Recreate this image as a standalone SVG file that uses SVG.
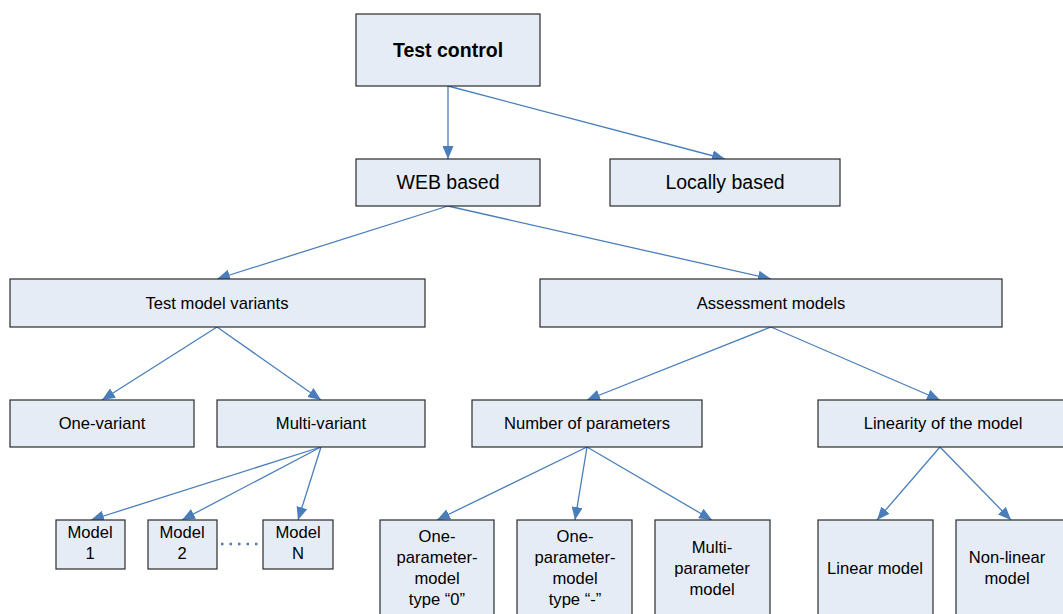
<svg xmlns="http://www.w3.org/2000/svg" width="1063" height="614" viewBox="0 0 1063 614">
<style>
.box{fill:#E6ECF6;stroke:#2b2b2b;stroke-width:1.2}
.t{font-family:"Liberation Sans",Arial,sans-serif;font-size:16.6px;fill:#000;text-anchor:middle}
.big{font-size:19.5px}
.bold{font-weight:bold}
.c{stroke:#4A7EBB;stroke-width:1.3;fill:none;marker-end:url(#ah)}
.dot{stroke:#4A7EBB;stroke-width:2.5;fill:none;stroke-dasharray:2.5 6}
</style>
<defs>
<marker id="ah" viewBox="0 0 13 11" refX="13" refY="5.5" markerWidth="13" markerHeight="11" markerUnits="userSpaceOnUse" orient="auto">
<path d="M0,0 L13,5.5 L0,11 z" fill="#4A7EBB"/>
</marker>
</defs>
<rect width="1063" height="614" fill="#fff"/>
<g id="connectors">
<line class="c" x1="448" y1="86" x2="448" y2="159"/>
<line class="c" x1="448" y1="86" x2="725" y2="159"/>
<line class="c" x1="448" y1="206" x2="217" y2="279"/>
<line class="c" x1="448" y1="206" x2="771" y2="279"/>
<line class="c" x1="217" y1="327" x2="102" y2="400"/>
<line class="c" x1="217" y1="327" x2="321" y2="400"/>
<line class="c" x1="321" y1="447" x2="91" y2="520"/>
<line class="c" x1="321" y1="447" x2="182" y2="520"/>
<line class="c" x1="321" y1="447" x2="298" y2="520"/>
<line class="c" x1="771" y1="327" x2="587" y2="400"/>
<line class="c" x1="771" y1="327" x2="940" y2="400"/>
<line class="c" x1="587" y1="447" x2="437" y2="520"/>
<line class="c" x1="587" y1="447" x2="575" y2="520"/>
<line class="c" x1="587" y1="447" x2="712" y2="520"/>
<line class="c" x1="940" y1="447" x2="877" y2="520"/>
<line class="c" x1="940" y1="447" x2="1011" y2="520"/>
<line class="dot" x1="221" y1="544" x2="262" y2="544"/>
</g>
<g id="test-control"><rect class="box" x="356" y="14" width="184" height="72"/><text class="t big bold" x="448" y="57">Test control</text></g>
<g id="web-based"><rect class="box" x="356" y="159" width="184" height="47"/><text class="t big" x="448" y="189">WEB based</text></g>
<g id="locally-based"><rect class="box" x="610" y="159" width="230" height="47"/><text class="t big" x="725" y="189">Locally based</text></g>
<g id="test-model-variants"><rect class="box" x="10" y="279" width="415" height="48"/><text class="t" x="217" y="309">Test model variants</text></g>
<g id="assessment-models"><rect class="box" x="540" y="279" width="462" height="48"/><text class="t" x="771" y="309">Assessment models</text></g>
<g id="one-variant"><rect class="box" x="10" y="400" width="184" height="47"/><text class="t" x="102" y="429">One-variant</text></g>
<g id="multi-variant"><rect class="box" x="217" y="400" width="208" height="47"/><text class="t" x="321" y="429">Multi-variant</text></g>
<g id="number-of-parameters"><rect class="box" x="472" y="400" width="230" height="47"/><text class="t" x="587" y="429">Number of parameters</text></g>
<g id="linearity"><rect class="box" x="818" y="400" width="250" height="47"/><text class="t" x="943" y="429">Linearity of the model</text></g>
<g id="model-1"><rect class="box" x="56" y="520" width="69" height="49"/><text class="t" x="90" y="538">Model</text><text class="t" x="90" y="559">1</text></g>
<g id="model-2"><rect class="box" x="148" y="520" width="69" height="49"/><text class="t" x="182" y="538">Model</text><text class="t" x="182" y="559">2</text></g>
<g id="model-n"><rect class="box" x="263" y="520" width="70" height="49"/><text class="t" x="298" y="538">Model</text><text class="t" x="298" y="559">N</text></g>
<g id="one-param-0"><rect class="box" x="380" y="520" width="114" height="100"/><text class="t" x="437" y="542">One-</text><text class="t" x="437" y="563">parameter-</text><text class="t" x="437" y="584">model</text><text class="t" x="437" y="605">type “0”</text></g>
<g id="one-param-minus"><rect class="box" x="517" y="520" width="115" height="100"/><text class="t" x="575" y="542">One-</text><text class="t" x="575" y="563">parameter-</text><text class="t" x="575" y="584">model</text><text class="t" x="575" y="605">type “-”</text></g>
<g id="multi-param"><rect class="box" x="655" y="520" width="115" height="100"/><text class="t" x="712" y="553">Multi-</text><text class="t" x="712" y="574">parameter</text><text class="t" x="712" y="595">model</text></g>
<g id="linear-model"><rect class="box" x="818" y="520" width="115" height="100"/><text class="t" x="875" y="574">Linear model</text></g>
<g id="non-linear-model"><rect class="box" x="956" y="520" width="112" height="100"/><text class="t" x="1007" y="563">Non-linear</text><text class="t" x="1007" y="584">model</text></g>
</svg>
